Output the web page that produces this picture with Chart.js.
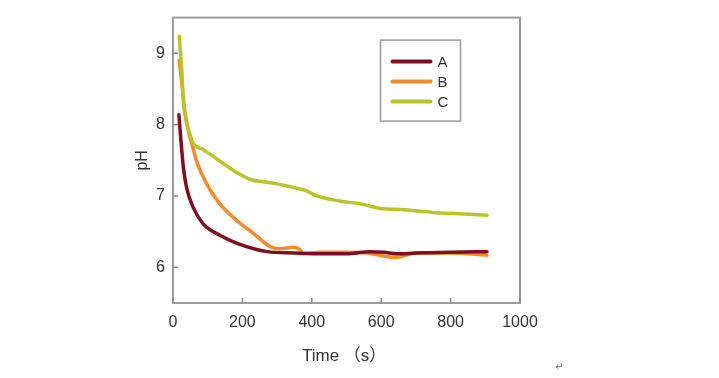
<!DOCTYPE html>
<html>
<head>
<meta charset="utf-8">
<script src="https://cdn.jsdelivr.net/npm/chart.js@4/dist/chart.umd.min.js"></script>
<style>
  html, body { margin: 0; padding: 0; background: #fff; }
  #wrap { position: relative; width: 719px; height: 378px; }
  #c { position: absolute; left: 0; top: 0; }
  #mark { position: absolute; left: 555px; top: 361px; font: 10px "DejaVu Sans", sans-serif; color: #777; }
</style>
</head>
<body>
<div id="wrap">
  <canvas id="c" width="719" height="378"></canvas>
  <span id="mark">↵</span>
</div>
<script>
// ---- data ----
const seriesLabels = ["A", "B", "C"];
const timeA = [17, 23, 30, 39, 58, 87, 135, 183, 241, 271, 346, 420, 500, 568, 610, 644, 700, 800, 905];
const phA   = [8.14, 7.77, 7.40, 7.12, 6.84, 6.61, 6.45, 6.34, 6.25, 6.22, 6.20, 6.19, 6.19, 6.22, 6.21, 6.19, 6.20, 6.21, 6.22];
const timeB = [18, 25, 35, 45, 54, 68, 97, 135, 183, 231, 280, 308, 346, 366, 375, 424, 500, 560, 605, 644, 701, 800, 905];
const phB   = [8.90, 8.60, 8.15, 7.90, 7.74, 7.49, 7.17, 6.89, 6.66, 6.48, 6.29, 6.26, 6.28, 6.25, 6.19, 6.21, 6.21, 6.20, 6.16, 6.14, 6.20, 6.20, 6.17];
const timeC = [18, 25, 30, 39, 49, 58, 87, 135, 183, 231, 260, 290, 346, 366, 385, 414, 481, 539, 576, 605, 654, 749, 827, 905];
const phC   = [9.24, 8.78, 8.32, 8.04, 7.86, 7.74, 7.65, 7.49, 7.33, 7.22, 7.20, 7.18, 7.12, 7.10, 7.07, 7.00, 6.93, 6.89, 6.85, 6.82, 6.81, 6.77, 6.75, 6.73];
const xTicks = [0, 200, 400, 600, 800, 1000];
const yTicks = [6, 7, 8, 9];

const pts = (xs, ys) => xs.map((x, i) => ({ x: x, y: ys[i] }));
const colors = ["#7a1020", "#f28c2c", "#b8c42a"];
const FONT = '"Liberation Sans", Arial, "Noto Sans CJK SC", sans-serif';
const TXT = "#333333";
const FRAME = "#9c9c9c";

const framePlugin = {
  id: "frame",
  afterDraw(chart) {
    const ctx = chart.ctx, a = chart.chartArea;
    const xs = chart.scales.x, ys = chart.scales.y;
    ctx.save();
    ctx.strokeStyle = FRAME;
    ctx.lineWidth = 2;
    ctx.strokeRect(a.left, a.top, a.right - a.left, a.bottom - a.top);
    ctx.lineWidth = 1.5;
    ctx.strokeStyle = "#888";
    ctx.beginPath();
    xTicks.forEach(v => { const p = xs.getPixelForValue(v); ctx.moveTo(p, a.bottom); ctx.lineTo(p, a.bottom - 5); });
    yTicks.forEach(v => { const p = ys.getPixelForValue(v); ctx.moveTo(a.left, p); ctx.lineTo(a.left + 5, p); });
    ctx.stroke();

    // legend box
    const bx = a.left + 207.5, by = a.top + 22.5, bw = 80, bh = 81;
    ctx.lineWidth = 1.5;
    ctx.strokeStyle = FRAME;
    ctx.strokeRect(bx, by, bw, bh);
    ctx.font = "15px " + FONT;
    ctx.textBaseline = "middle";
    ctx.textAlign = "left";
    chart.data.datasets.forEach((ds, i) => {
      const y = by + 21.5 + i * 20;
      ctx.strokeStyle = ds.borderColor;
      ctx.lineWidth = 4;
      ctx.lineCap = "round";
      ctx.beginPath();
      ctx.moveTo(bx + 12, y); ctx.lineTo(bx + 50, y);
      ctx.stroke();
      ctx.fillStyle = TXT;
      ctx.fillText(ds.label, bx + 57, y + 1);
    });
    ctx.restore();
  }
};

new Chart(document.getElementById("c"), {
  type: "line",
  data: {
    datasets: [
      { label: seriesLabels[0], data: pts(timeA, phA), borderColor: colors[0], order: 0 },
      { label: seriesLabels[1], data: pts(timeB, phB), borderColor: colors[1], order: 2 },
      { label: seriesLabels[2], data: pts(timeC, phC), borderColor: colors[2], order: 1 }
    ]
  },
  options: {
    responsive: false,
    animation: false,
    devicePixelRatio: 1,
    layout: { padding: { left: 0, right: 199, top: 14, bottom: 0 } },
    elements: {
      line: { borderWidth: 3.5, cubicInterpolationMode: "monotone", borderCapStyle: "round", borderJoinStyle: "round", fill: false },
      point: { radius: 0, hoverRadius: 0 }
    },
    plugins: { legend: { display: false }, tooltip: { enabled: false } },
    scales: {
      x: {
        type: "linear", min: 0, max: 1000,
        afterBuildTicks: s => { s.ticks = xTicks.map(v => ({ value: v })); },
        afterFit: s => { s.height = 75; },
        grid: { display: false, drawTicks: false },
        border: { display: false },
        ticks: { font: { family: FONT, size: 16 }, color: TXT, padding: 10, maxRotation: 0, callback: v => String(v) },
        title: { display: true, text: "Time （s） ", font: { family: FONT, size: 17 }, color: TXT, padding: { top: 0, bottom: 11 } }
      },
      y: {
        type: "linear", min: 5.5, max: 9.5,
        afterBuildTicks: s => { s.ticks = yTicks.map(v => ({ value: v })); },
        afterFit: s => { s.width = 173; },
        grid: { display: false, drawTicks: false },
        border: { display: false },
        ticks: { font: { family: FONT, size: 16 }, color: TXT, padding: 8, callback: v => String(v) },
        title: { display: true, text: "pH", font: { family: FONT, size: 16 }, color: TXT, padding: { top: 133, bottom: 0 } }
      }
    }
  },
  plugins: [framePlugin]
});
</script>
</body>
</html>
